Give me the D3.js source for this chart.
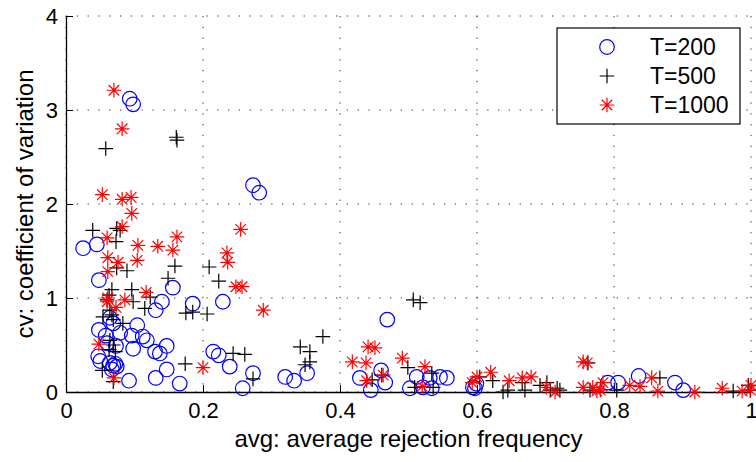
<!DOCTYPE html>
<html>
<head>
<meta charset="utf-8">
<script src="https://cdn.jsdelivr.net/npm/d3@7"></script>
<style>
  body { margin: 0; background: #fff; }
  text { font-family: "Liberation Sans", Arial, Helvetica, sans-serif; }
</style>
</head>
<body>
<div id="chart"></div>
<script>
// T=200 (circles)
const t200X = [.025,.045,.048,.093,.098,.273,.282,.156,.140,.131,.185,.229,.064,.069,.048,.104,.079,.058,.096,.112,.118,
  .060,.073,.098,.130,.137,.147,.215,.223,.047,.050,.064,.069,.072,.067,.074,.092,.131,.147,.166,.239,.258,.273,.320,.333,.352,
  .469,.429,.445,.460,.466,.502,.512,.521,.531,.534,.546,.556,.594,.597,.599,.791,.806,.836,.889,.901];
const t200Y = [1.53,1.57,1.19,3.12,3.06,2.20,2.12,1.11,0.96,0.87,0.94,0.96,0.79,0.73,0.66,0.71,0.63,0.60,0.60,0.59,0.55,
  0.52,0.49,0.46,0.43,0.41,0.49,0.43,0.39,0.38,0.33,0.31,0.28,0.30,0.24,0.27,0.12,0.15,0.24,0.09,0.27,0.04,0.20,0.16,0.12,0.20,
  0.77,0.15,0.02,0.23,0.10,0.04,0.16,0.05,0.15,0.04,0.16,0.15,0.05,0.04,0.09,0.10,0.10,0.17,0.10,0.02];

// T=500 (plus)
const t500X = [.058,.161,.162,.039,.074,.079,.073,.089,.074,.159,.149,.209,.223,.067,.063,.096,.123,.098,.060,.115,.064,.067,
  .054,.083,.069,.175,.185,.206,.064,.069,.063,.072,.053,.069,.174,.244,.261,.273,.342,.349,.356,.356,.375,.507,.517,.447,.461,
  .499,.509,.534,.536,.604,.623,.638,.645,.666,.670,.692,.702,.707,.717,.721,.762,.765,.804,.867,.974,.996,.999];
const t500Y = [2.59,2.71,2.68,1.72,1.74,1.72,1.60,1.29,1.32,1.34,1.21,1.33,1.18,1.09,1.03,1.09,1.01,0.96,0.98,0.89,0.87,0.82,
  0.80,0.73,0.77,0.84,0.85,0.83,0.55,0.50,0.45,0.43,0.23,0.11,0.30,0.41,0.40,0.14,0.48,0.29,0.43,0.32,0.59,0.98,0.95,0.13,0.18,
  0.26,0.05,0.20,0.05,0.16,0.12,0.00,0.02,0.10,0.02,0.07,0.10,0.02,0.04,0.02,0.31,0.02,0.02,0.15,0.01,0.07,0.02];

// T=1000 (asterisk)
const t1000X = [.070,.082,.053,.082,.095,.096,.082,.060,.105,.134,.162,.156,.255,.061,.076,.104,.061,.235,.236,.248,.257,.117,
  .086,.061,.060,.073,.288,.048,.200,.070,.418,.438,.441,.451,.491,.524,.439,.463,.520,.593,.600,.620,.647,.666,.679,.701,.714,
  .755,.761,.755,.769,.775,.780,.784,.823,.838,.855,.864,.918,.958,.987,.999,1.0];
const t1000Y = [3.21,2.80,2.10,2.05,2.07,1.90,1.76,1.64,1.56,1.55,1.65,1.51,1.73,1.43,1.38,1.40,1.28,1.48,1.38,1.12,1.12,1.06,
  0.98,1.00,0.96,0.90,0.87,0.51,0.26,0.15,0.32,0.31,0.48,0.47,0.36,0.27,0.12,0.18,0.06,0.10,0.16,0.21,0.12,0.15,0.16,0.05,0.00,
  0.32,0.31,0.05,0.05,0.01,0.02,0.10,0.07,0.06,0.15,0.01,0.00,0.04,0.01,0.02,0.07];

const xTicks = [0, 0.2, 0.4, 0.6, 0.8, 1];
const xTickLabels = ["0", "0.2", "0.4", "0.6", "0.8", "1"];
const yTicks = [0, 1, 2, 3, 4];
const seriesNames = ["T=200", "T=500", "T=1000"];

const W = 756, H = 462;
const margin = {top: 16, right: 5, bottom: 70, left: 66};
const width = W - margin.left - margin.right;
const height = H - margin.top - margin.bottom;

const svg = d3.select("#chart").append("svg")
    .attr("width", W).attr("height", H)
    .style("background", "#fff");

const g = svg.append("g").attr("transform", `translate(${margin.left},${margin.top})`);

const x = d3.scaleLinear().domain([0, 1]).range([0, width]);
const y = d3.scaleLinear().domain([0, 4]).range([height, 0]);

// dotted grid
g.append("g").selectAll("line").data(xTicks).enter().append("line")
    .attr("x1", d => x(d)).attr("x2", d => x(d)).attr("y1", 0).attr("y2", height)
    .attr("stroke", "#333").attr("stroke-width", 1).attr("stroke-dasharray", "1.3,9.5");
g.append("g").selectAll("line").data(yTicks).enter().append("line")
    .attr("y1", d => y(d)).attr("y2", d => y(d)).attr("x1", 0).attr("x2", width)
    .attr("stroke", "#333").attr("stroke-width", 1).attr("stroke-dasharray", "1.3,9.5");

// axes (MATLAB style: inward ticks)
const xAxis = g.append("g").attr("transform", `translate(0,${height})`)
    .call(d3.axisBottom(x).tickValues(xTicks).tickFormat((d, i) => xTickLabels[i]).tickSizeInner(-7).tickSizeOuter(0).tickPadding(16));
const yAxis = g.append("g")
    .call(d3.axisLeft(y).tickValues(yTicks).tickFormat(d3.format("d")).tickSizeInner(-7).tickSizeOuter(0).tickPadding(16));
[xAxis, yAxis].forEach(a => {
  a.select(".domain").attr("stroke", "#000").attr("stroke-width", 1.3);
  a.selectAll(".tick line").attr("stroke", "#000");
  a.selectAll("text").attr("font-size", 22).attr("fill", "#000")
    .style("font-family", "'Liberation Sans', Arial, sans-serif");
});
yAxis.selectAll("text").attr("x", -8);
xAxis.selectAll("text").attr("y", 10);

// markers
const S = 7.3;
const d45 = S * 0.72;
const plusPath = `M${-S},0H${S}M0,${-S}V${S}`;
const starPath = plusPath + `M${-d45},${-d45}L${d45},${d45}M${-d45},${d45}L${d45},${-d45}`;

g.append("g").selectAll("circle").data(t200X).enter().append("circle")
    .attr("cx", d => x(d)).attr("cy", (d, i) => y(t200Y[i])).attr("r", S)
    .attr("fill", "none").attr("stroke", "#0000ff").attr("stroke-width", 1.2);

g.append("g").selectAll("path").data(t500X).enter().append("path")
    .attr("transform", (d, i) => `translate(${x(d)},${y(t500Y[i])})`)
    .attr("d", plusPath).attr("fill", "none").attr("stroke", "#000").attr("stroke-width", 1.2);

g.append("g").selectAll("path").data(t1000X).enter().append("path")
    .attr("transform", (d, i) => `translate(${x(d)},${y(t1000Y[i])})`)
    .attr("d", starPath).attr("fill", "none").attr("stroke", "#ff0000").attr("stroke-width", 1.2);

// axis labels
svg.append("text")
    .attr("x", margin.left + width / 2).attr("y", 447)
    .attr("text-anchor", "middle").attr("font-size", 24)
    .text("avg: average rejection frequency");
svg.append("text")
    .attr("transform", `translate(33,${margin.top + height / 2}) rotate(-90)`)
    .attr("text-anchor", "middle").attr("font-size", 24)
    .text("cv: coefficient of variation");

// legend
const legend = svg.append("g");
legend.append("rect").attr("x", 557).attr("y", 28).attr("width", 183).attr("height", 96)
    .attr("fill", "#fff").attr("stroke", "#000").attr("stroke-width", 1.2);
const rows = [47, 76, 105];
seriesNames.forEach((name, i) => {
  const ry = rows[i];
  if (i === 0) {
    legend.append("circle").attr("cx", 607).attr("cy", ry).attr("r", S)
      .attr("fill", "none").attr("stroke", "#0000ff").attr("stroke-width", 1.2);
  } else {
    legend.append("path").attr("transform", `translate(607,${ry})`)
      .attr("d", i === 1 ? plusPath : starPath).attr("fill", "none")
      .attr("stroke", i === 1 ? "#000" : "#ff0000").attr("stroke-width", 1.2);
  }
  legend.append("text").attr("x", 650).attr("y", ry).attr("dy", "0.36em")
    .attr("font-size", 23).text(name);
});
</script>
</body>
</html>
